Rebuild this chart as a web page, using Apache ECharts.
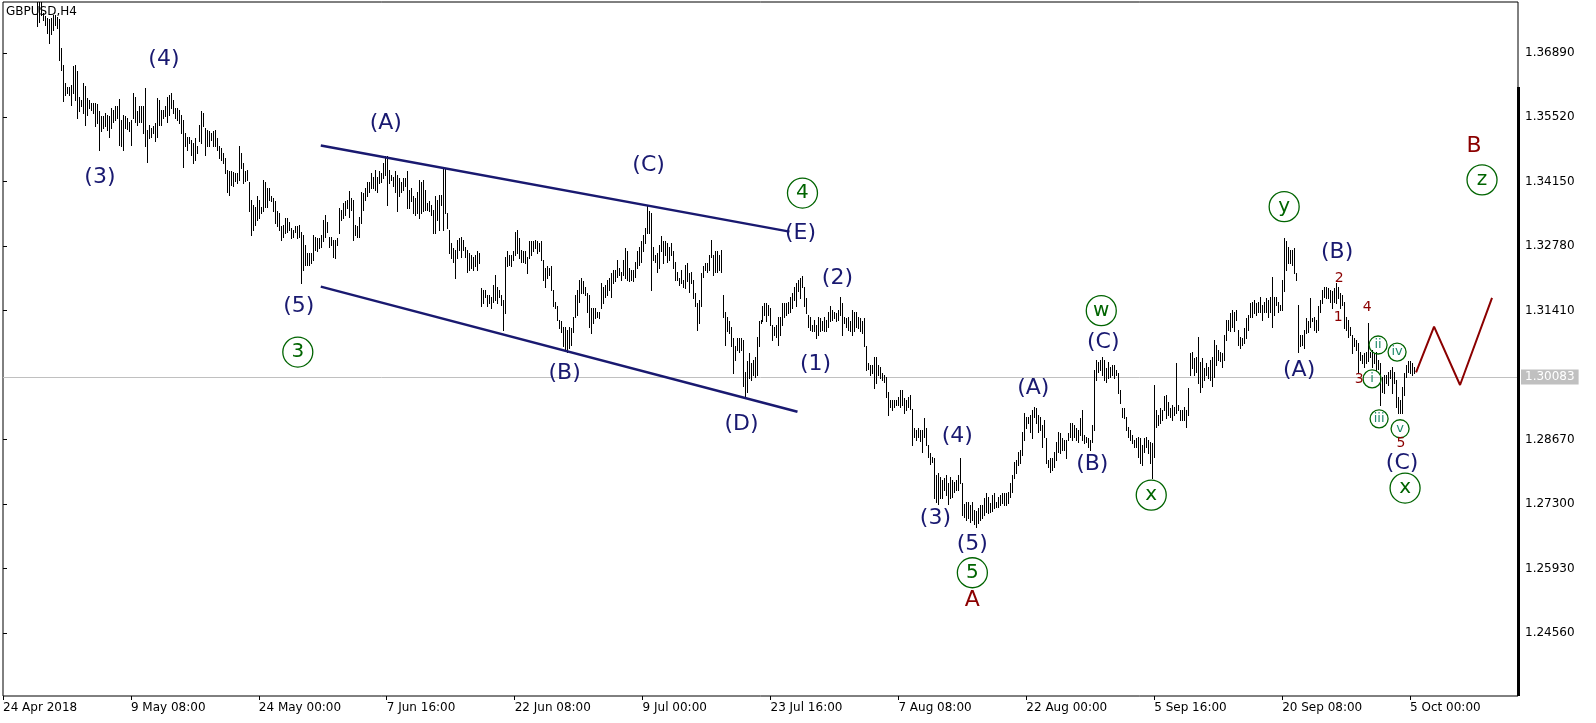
<!DOCTYPE html>
<html>
<head>
<meta charset="utf-8">
<script src="https://cdn.jsdelivr.net/npm/echarts@6/dist/echarts.min.js"></script>
<style>html,body{margin:0;padding:0;background:#fff;}#c{width:1596px;height:723px;}</style>
</head>
<body>
<div id="c"></div>
<script>
// ---- data (GBPUSD H4 bars: high / low) ----
const symbolTitle = 'GBPUSD,H4';
const tickLabels = ['24 Apr 2018','9 May 08:00','24 May 00:00','7 Jun 16:00','22 Jun 08:00','9 Jul 00:00','23 Jul 16:00','7 Aug 08:00','22 Aug 00:00','5 Sep 16:00','20 Sep 08:00','5 Oct 00:00'];
const barsPerLabel = 64;
const totalSlots = 758;
const yTicks = [1.24560,1.25930,1.27300,1.28670,1.31410,1.32780,1.34150,1.35520,1.36890];
const lastPrice = 1.30083;

const highs = [
1.3975,1.3960,1.3985,1.3990,1.3965,1.3950,1.3945,1.3940,1.3945,1.3950,
1.3960,1.3945,1.3930,1.3940,1.3935,1.3925,1.3905,1.3830,1.3815,1.3800,
1.3774,1.3767,1.3763,1.3760,1.3763,1.3770,1.3770,1.3765,1.3761,1.3699,
1.3664,1.3625,1.3616,1.3616,1.3621,1.3660,1.3664,1.3650,1.3596,1.3589,
1.3625,1.3618,1.3593,1.3589,1.3582,1.3582,1.3582,1.3581,1.3565,1.3554,
1.3554,1.3561,1.3557,1.3554,1.3572,1.3567,1.3575,1.3575,1.3591,1.3547,
1.3557,1.3555,1.3550,1.3543,1.3547,1.3603,1.3596,1.3565,1.3575,1.3575,
1.3575,1.3614,1.3526,1.3536,1.3529,1.3534,1.3540,1.3593,1.3589,1.3568,
1.3568,1.3575,1.3596,1.3600,1.3603,1.3589,1.3572,1.3572,1.3568,1.3557,
1.3547,1.3518,1.3511,1.3511,1.3504,1.3497,1.3508,1.3490,1.3536,1.3565,
1.3561,1.3529,1.3526,1.3522,1.3518,1.3522,1.3526,1.3508,1.3490,1.3487,
1.3476,1.3465,1.3440,1.3437,1.3437,1.3435,1.3433,1.3433,1.3490,1.3476,
1.3455,1.3437,1.3440,1.3415,1.3376,1.3366,1.3362,1.3384,1.3376,1.3362,
1.3419,1.3415,1.3401,1.3401,1.3384,1.3380,1.3373,1.3352,1.3348,1.3320,
1.3323,1.3337,1.3337,1.3330,1.3316,1.3313,1.3320,1.3320,1.3323,1.3309,
1.3302,1.3281,1.3263,1.3263,1.3263,1.3302,1.3298,1.3295,1.3295,1.3302,
1.3334,1.3345,1.3330,1.3298,1.3298,1.3291,1.3291,1.3295,1.3359,1.3355,
1.3369,1.3373,1.3376,1.3396,1.3380,1.3376,1.3323,1.3320,1.3341,1.3394,
1.3391,1.3401,1.3415,1.3415,1.3433,1.3426,1.3440,1.3426,1.3437,1.3433,
1.3454,1.3469,1.3469,1.3440,1.3430,1.3426,1.3437,1.3430,1.3423,1.3415,
1.3423,1.3423,1.3437,1.3398,1.3401,1.3384,1.3380,1.3394,1.3419,1.3415,
1.3419,1.3398,1.3369,1.3373,1.3366,1.3355,1.3384,1.3376,1.3387,1.3387,
1.3444,1.3444,1.3348,1.3313,1.3284,1.3274,1.3270,1.3291,1.3295,1.3298,
1.3291,1.3277,1.3270,1.3263,1.3259,1.3256,1.3259,1.3267,1.3263,1.3189,
1.3185,1.3185,1.3174,1.3174,1.3171,1.3196,1.3217,1.3192,1.3185,1.3174,
1.3164,1.3256,1.3267,1.3260,1.3260,1.3267,1.3309,1.3313,1.3295,1.3270,
1.3267,1.3267,1.3256,1.3288,1.3288,1.3288,1.3291,1.3288,1.3284,1.3288,
1.3249,1.3231,1.3235,1.3231,1.3235,1.3185,1.3160,1.3150,1.3121,1.3118,
1.3107,1.3107,1.3100,1.3107,1.3104,1.3128,1.3174,1.3185,1.3206,1.3210,
1.3203,1.3192,1.3178,1.3174,1.3146,1.3146,1.3146,1.3139,1.3139,1.3199,
1.3192,1.3196,1.3206,1.3210,1.3221,1.3228,1.3228,1.3249,1.3231,1.3224,
1.3249,1.3274,1.3267,1.3231,1.3228,1.3228,1.3245,1.3267,1.3277,1.3288,
1.3302,1.3316,1.3366,1.3352,1.3348,1.3277,1.3260,1.3263,1.3281,1.3299,
1.3288,1.3288,1.3284,1.3277,1.3284,1.3267,1.3245,1.3224,1.3210,1.3228,
1.3206,1.3238,1.3242,1.3221,1.3224,1.3206,1.3178,1.3157,1.3164,1.3221,
1.3235,1.3242,1.3242,1.3260,1.3291,1.3260,1.3267,1.3267,1.3260,1.3270,
1.3174,1.3139,1.3128,1.3118,1.3107,1.3082,1.3065,1.3082,1.3082,1.3082,
1.3079,1.3011,1.3033,1.3050,1.3029,1.3036,1.3043,1.3086,1.3118,1.3121,
1.3150,1.3157,1.3157,1.3153,1.3146,1.3111,1.3107,1.3111,1.3128,1.3128,
1.3157,1.3157,1.3157,1.3160,1.3171,1.3178,1.3192,1.3199,1.3206,1.3210,
1.3214,1.3192,1.3167,1.3132,1.3128,1.3111,1.3121,1.3111,1.3128,1.3125,
1.3118,1.3128,1.3121,1.3139,1.3150,1.3143,1.3139,1.3136,1.3143,1.3171,
1.3157,1.3128,1.3125,1.3128,1.3118,1.3143,1.3139,1.3139,1.3128,1.3125,
1.3118,1.3125,1.3065,1.3029,1.3026,1.3026,1.3043,1.3043,1.3026,1.3022,
1.3008,1.3004,1.3001,1.2969,1.2951,1.2951,1.2951,1.2951,1.2958,1.2972,
1.2972,1.2955,1.2951,1.2958,1.2962,1.2933,1.2891,1.2887,1.2891,1.2887,
1.2887,1.2912,1.2891,1.2855,1.2838,1.2831,1.2827,1.2792,1.2795,1.2788,
1.2781,1.2785,1.2792,1.2774,1.2788,1.2781,1.2777,1.2781,1.2792,1.2827,
1.2774,1.2731,1.2735,1.2735,1.2728,1.2735,1.2717,1.2715,1.2722,1.2728,
1.2728,1.2743,1.2754,1.2745,1.2732,1.2749,1.2754,1.2735,1.2745,1.2749,
1.2754,1.2754,1.2754,1.2756,1.2775,1.2792,1.2819,1.2824,1.2841,1.2845,
1.2883,1.2924,1.2915,1.2915,1.2919,1.2930,1.2936,1.2934,1.2919,1.2915,
1.2898,1.2909,1.2870,1.2824,1.2828,1.2828,1.2841,1.2862,1.2883,1.2881,
1.2870,1.2866,1.2866,1.2881,1.2902,1.2902,1.2898,1.2892,1.2888,1.2913,
1.2930,1.2877,1.2873,1.2870,1.2866,1.2898,1.3015,1.3036,1.3032,1.3036,
1.3043,1.3036,1.3019,1.3032,1.3022,1.3026,1.3026,1.3015,1.3009,1.2972,
1.2934,1.2934,1.2915,1.2894,1.2888,1.2877,1.2866,1.2870,1.2873,1.2870,
1.2856,1.2870,1.2873,1.2866,1.2862,1.2860,1.2983,1.2930,1.2919,1.2934,
1.2930,1.2960,1.2962,1.2947,1.2934,1.2941,1.2936,1.3030,1.2941,1.2930,
1.2930,1.2936,1.2930,1.2977,1.3051,1.3053,1.3041,1.3043,1.3085,1.3032,
1.3041,1.3019,1.3029,1.3022,1.3036,1.3043,1.3079,1.3068,1.3058,1.3054,
1.3050,1.3089,1.3121,1.3121,1.3135,1.3143,1.3139,1.3143,1.3100,1.3086,
1.3082,1.3104,1.3125,1.3132,1.3157,1.3160,1.3164,1.3157,1.3160,1.3171,
1.3153,1.3160,1.3167,1.3164,1.3171,1.3213,1.3171,1.3171,1.3160,1.3153,
1.3206,1.3295,1.3288,1.3277,1.3270,1.3270,1.3274,1.3221,1.3153,1.3089,
1.3089,1.3100,1.3125,1.3118,1.3167,1.3125,1.3128,1.3121,1.3150,1.3164,
1.3185,1.3192,1.3192,1.3189,1.3185,1.3182,1.3189,1.3199,1.3192,1.3178,
1.3174,1.3160,1.3128,1.3121,1.3107,1.3089,1.3082,1.3079,1.3072,1.3054,
1.3047,1.3050,1.3054,1.3114,1.3054,1.3058,1.3050,1.3054,1.3036,1.3029,
1.3001,1.3004,1.3004,1.3011,1.3015,1.3022,1.3011,1.2994,1.2958,1.2951,
1.2979,1.3008,1.3026,1.3033,1.3033,1.3029,1.3022
];
const lows = [
1.3940,1.3930,1.3950,1.3955,1.3935,1.3925,1.3920,1.3918,1.3920,1.3925,
1.3930,1.3912,1.3905,1.3915,1.3912,1.3895,1.3820,1.3745,1.3754,1.3770,
1.3758,1.3749,1.3731,1.3710,1.3728,1.3738,1.3749,1.3742,1.3674,1.3653,
1.3586,1.3600,1.3603,1.3600,1.3579,1.3603,1.3589,1.3550,1.3565,1.3575,
1.3561,1.3536,1.3557,1.3572,1.3568,1.3561,1.3533,1.3540,1.3483,1.3522,
1.3529,1.3533,1.3526,1.3511,1.3529,1.3543,1.3547,1.3550,1.3494,1.3490,
1.3483,1.3529,1.3527,1.3522,1.3494,1.3550,1.3543,1.3536,1.3543,1.3543,
1.3518,1.3490,1.3458,1.3508,1.3511,1.3518,1.3501,1.3511,1.3536,1.3536,
1.3550,1.3554,1.3543,1.3557,1.3572,1.3561,1.3550,1.3547,1.3540,1.3518,
1.3447,1.3490,1.3483,1.3497,1.3472,1.3455,1.3462,1.3476,1.3501,1.3497,
1.3533,1.3472,1.3490,1.3490,1.3504,1.3490,1.3490,1.3483,1.3465,1.3462,
1.3455,1.3433,1.3394,1.3387,1.3409,1.3405,1.3416,1.3412,1.3419,1.3444,
1.3412,1.3416,1.3419,1.3352,1.3302,1.3313,1.3323,1.3334,1.3337,1.3348,
1.3352,1.3362,1.3362,1.3376,1.3373,1.3352,1.3327,1.3320,1.3313,1.3291,
1.3298,1.3306,1.3309,1.3313,1.3295,1.3298,1.3309,1.3295,1.3298,1.3199,
1.3228,1.3238,1.3238,1.3238,1.3242,1.3249,1.3270,1.3267,1.3274,1.3277,
1.3288,1.3298,1.3309,1.3277,1.3281,1.3256,1.3252,1.3281,1.3306,1.3334,
1.3337,1.3345,1.3359,1.3341,1.3355,1.3291,1.3302,1.3298,1.3298,1.3327,
1.3355,1.3376,1.3384,1.3394,1.3401,1.3401,1.3398,1.3394,1.3412,1.3415,
1.3423,1.3430,1.3366,1.3412,1.3419,1.3405,1.3394,1.3352,1.3384,1.3394,
1.3398,1.3405,1.3359,1.3359,1.3373,1.3348,1.3345,1.3348,1.3337,1.3348,
1.3352,1.3355,1.3355,1.3352,1.3345,1.3306,1.3306,1.3334,1.3313,1.3366,
1.3313,1.3348,1.3316,1.3263,1.3252,1.3245,1.3210,1.3252,1.3270,1.3256,
1.3270,1.3256,1.3224,1.3228,1.3231,1.3228,1.3235,1.3228,1.3242,1.3150,
1.3157,1.3171,1.3150,1.3157,1.3146,1.3160,1.3164,1.3157,1.3171,1.3153,
1.3100,1.3135,1.3235,1.3238,1.3235,1.3249,1.3260,1.3263,1.3252,1.3245,
1.3245,1.3242,1.3221,1.3252,1.3260,1.3267,1.3274,1.3263,1.3267,1.3249,
1.3206,1.3192,1.3210,1.3217,1.3185,1.3150,1.3146,1.3121,1.3104,1.3096,
1.3065,1.3057,1.3054,1.3061,1.3068,1.3096,1.3128,1.3132,1.3160,1.3178,
1.3178,1.3174,1.3139,1.3107,1.3093,1.3114,1.3125,1.3128,1.3125,1.3146,
1.3157,1.3171,1.3174,1.3185,1.3171,1.3199,1.3203,1.3213,1.3217,1.3206,
1.3217,1.3210,1.3206,1.3203,1.3206,1.3203,1.3213,1.3231,1.3238,1.3245,
1.3267,1.3284,1.3306,1.3306,1.3185,1.3249,1.3245,1.3224,1.3231,1.3267,
1.3242,1.3260,1.3245,1.3249,1.3260,1.3231,1.3206,1.3206,1.3196,1.3199,
1.3192,1.3189,1.3203,1.3181,1.3199,1.3167,1.3150,1.3100,1.3114,1.3150,
1.3213,1.3228,1.3224,1.3228,1.3256,1.3217,1.3224,1.3224,1.3228,1.3224,
1.3128,1.3068,1.3097,1.3093,1.3065,1.3008,1.3036,1.3058,1.3054,1.3058,
1.2980,1.2958,1.2969,1.2997,1.2994,1.3004,1.3001,1.3004,1.3065,1.3114,
1.3118,1.3132,1.3118,1.3132,1.3111,1.3079,1.3089,1.3086,1.3068,1.3089,
1.3111,1.3128,1.3132,1.3135,1.3139,1.3146,1.3164,1.3150,1.3182,1.3167,
1.3192,1.3150,1.3136,1.3107,1.3100,1.3097,1.3097,1.3082,1.3089,1.3097,
1.3100,1.3097,1.3097,1.3107,1.3118,1.3121,1.3125,1.3118,1.3121,1.3132,
1.3089,1.3114,1.3107,1.3100,1.3097,1.3089,1.3097,1.3107,1.3104,1.3097,
1.3093,1.3065,1.3015,1.3018,1.3004,1.3008,1.2976,1.2987,1.3004,1.2997,
1.2994,1.2990,1.2958,1.2919,1.2937,1.2930,1.2937,1.2941,1.2941,1.2937,
1.2941,1.2923,1.2930,1.2937,1.2933,1.2855,1.2873,1.2866,1.2873,1.2863,
1.2841,1.2873,1.2855,1.2831,1.2816,1.2820,1.2742,1.2735,1.2731,1.2742,
1.2742,1.2760,1.2749,1.2731,1.2742,1.2746,1.2756,1.2760,1.2760,1.2774,
1.2706,1.2703,1.2696,1.2701,1.2692,1.2696,1.2688,1.2681,1.2690,1.2696,
1.2701,1.2707,1.2713,1.2711,1.2713,1.2715,1.2722,1.2724,1.2724,1.2728,
1.2732,1.2728,1.2728,1.2732,1.2745,1.2756,1.2786,1.2796,1.2813,1.2817,
1.2834,1.2866,1.2892,1.2902,1.2883,1.2870,1.2915,1.2902,1.2883,1.2888,
1.2851,1.2873,1.2817,1.2809,1.2798,1.2803,1.2809,1.2824,1.2841,1.2839,
1.2845,1.2845,1.2828,1.2866,1.2873,1.2866,1.2873,1.2866,1.2862,1.2877,
1.2866,1.2860,1.2862,1.2851,1.2845,1.2862,1.2888,1.2994,1.3011,1.3015,
1.3004,1.2994,1.2990,1.2998,1.3000,1.3004,1.2998,1.3004,1.2966,1.2945,
1.2915,1.2913,1.2888,1.2873,1.2866,1.2860,1.2851,1.2851,1.2830,1.2817,
1.2813,1.2841,1.2851,1.2839,1.2817,1.2786,1.2830,1.2894,1.2898,1.2902,
1.2909,1.2930,1.2913,1.2919,1.2915,1.2909,1.2919,1.2924,1.2930,1.2909,
1.2909,1.2909,1.2894,1.2919,1.3004,1.3019,1.3004,1.3011,1.2987,1.2968,
1.2979,1.2994,1.3004,1.2997,1.2994,1.2980,1.3001,1.3026,1.3036,1.3033,
1.3022,1.3036,1.3079,1.3100,1.3097,1.3107,1.3097,1.3121,1.3068,1.3061,
1.3068,1.3072,1.3082,1.3100,1.3128,1.3128,1.3135,1.3132,1.3139,1.3139,
1.3121,1.3139,1.3139,1.3128,1.3139,1.3107,1.3132,1.3153,1.3139,1.3143,
1.3143,1.3182,1.3228,1.3242,1.3242,1.3238,1.3221,1.3206,1.3054,1.3065,
1.3068,1.3061,1.3093,1.3096,1.3107,1.3118,1.3100,1.3096,1.3100,1.3139,
1.3157,1.3171,1.3167,1.3167,1.3160,1.3146,1.3160,1.3157,1.3167,1.3146,
1.3153,1.3104,1.3100,1.3086,1.3089,1.3050,1.3065,1.3058,1.3011,1.3036,
1.3029,1.3022,1.3029,1.3033,1.3043,1.3022,1.3029,1.3015,1.3018,1.2941,
1.2969,1.2965,1.2987,1.2983,1.2997,1.2965,1.2987,1.2937,1.2923,1.2923,
1.2923,1.2962,1.3001,1.3011,1.3008,1.3004,1.3008
];

// wave annotations: [text, bar index, price]
const navyLabels = [
['(4)',80.5,1.3676],['(3)',48.5,1.3425],['(A)',191.5,1.3540],['(5)',148,1.3151],['(C)',323,1.3451],
['(E)',399,1.3306],['(B)',281,1.3007],['(D)',369.5,1.2900],['(2)',417.5,1.3209],['(1)',406.5,1.3028],
['(4)',477.5,1.2873],['(3)',466.5,1.2700],['(5)',485,1.2645],['(A)',515.5,1.2977],['(B)',545,1.2815],
['(C)',550.5,1.3073],['(A)',648.5,1.3015],['(B)',667.5,1.3266],['(C)',700,1.2817]
];
const greenCircled = [['3',147.5,1.3053],['4',400,1.3391],['5',485,1.2584],['w',549.5,1.3141],['x',574.5,1.2749],['y',641,1.3362],['z',740,1.3419],['x',701.5,1.2764]];
const redBig = [['A',485,1.2526],['B',736,1.3491]];
const redSmall = [['2',668.5,1.3209],['1',668,1.3126],['4',682.5,1.3147],['3',678.5,1.2994],['5',699.5,1.2860]];
const romanCircled = [['i',685,1.2996],['ii',688,1.3068],['iii',688.5,1.2911],['iv',697.5,1.3053],['v',699,1.2890]];

// channel lines [index, price]
const upperLine = [[159,1.3492],[393.5,1.3309]];
const lowerLine = [[159,1.3192],[397.5,1.2926]];
// forecast zigzag
const projX = [707,716,729,745];
const projY = [1.3010,1.3107,1.2983,1.3168];

const Y_MIN = 1.2322, Y_MAX = 1.3797;
const FONT = 'DejaVu Sans';
const NAVY = '#191970', GREEN = '#006400', DRED = '#8b0000';

const tickIdx = tickLabels.map((_, k) => k * barsPerLabel);
const barData = highs.map((h, i) => [i, h, lows[i]]);

function labelSeries(arr, color, size, circle, circleSize, textColor) {
  return {
    type: 'scatter', silent: true, z: 10,
    symbol: 'circle',
    symbolSize: circle ? circleSize : 1,
    itemStyle: circle ? {color: 'rgba(0,0,0,0)', borderColor: color, borderWidth: 1.3, opacity: 1}
                      : {color: 'rgba(0,0,0,0)', opacity: 1},
    data: arr.map(a => [a[1], a[2], a[0]]),
    label: {show: true, position: 'inside', formatter: p => p.data[2], color: textColor || color,
            fontSize: size, fontFamily: FONT, opacity: 1},
    emphasis: {disabled: true}
  };
}

const chart = echarts.init(document.getElementById('c'), null, {renderer: 'canvas'});
chart.setOption({
  animation: false,
  backgroundColor: '#ffffff',
  title: {text: symbolTitle, left: 6, top: 6, padding: 0,
          textStyle: {fontSize: 12, fontWeight: 'normal', color: '#000', fontFamily: FONT}},
  grid: {left: 2, top: 2, width: 1516, height: 694, show: true, borderColor: '#000', borderWidth: 1, backgroundColor: 'transparent'},
  xAxis: {
    type: 'value', min: 0, max: totalSlots,
    splitLine: {show: false}, axisLine: {show: false},
    axisTick: {show: true, customValues: tickIdx, length: 4, lineStyle: {color: '#000'}},
    axisLabel: {customValues: tickIdx, formatter: v => tickLabels[Math.round(v / barsPerLabel)] || '',
                align: 'left', margin: 6, color: '#000', fontSize: 12, fontFamily: FONT}
  },
  yAxis: {
    type: 'value', position: 'right', min: Y_MIN, max: Y_MAX,
    splitLine: {show: false}, axisLine: {show: false},
    axisTick: {show: true, customValues: yTicks, length: 4, lineStyle: {color: '#000'}},
    axisLabel: {customValues: yTicks, formatter: v => v.toFixed(5), margin: 7, color: '#000', fontSize: 12, fontFamily: FONT}
  },
  graphic: [{type: 'rect', shape: {x: 1517, y: 87, width: 3, height: 609}, style: {fill: '#000'}, z: 100}],
  series: [
    {
      type: 'line', silent: true, z: 1, symbol: 'none',
      data: projX.map((x, i) => [x, projY[i]]),
      lineStyle: {color: DRED, width: 2},
      markLine: {
        silent: true, symbol: 'none', z: 0,
        data: [{yAxis: lastPrice}],
        lineStyle: {color: '#c0c0c0', width: 1, type: 'solid'},
        label: {show: true, position: 'end', distance: 3, formatter: lastPrice.toFixed(5),
                backgroundColor: '#c0c0c0', color: '#fff', padding: [2, 4, 1, 4], fontSize: 12, fontFamily: FONT}
      }
    },
    {
      type: 'custom', clip: true, silent: true, z: 3,
      data: barData,
      encode: {x: 0, y: [1, 2]},
      renderItem: (params, api) => {
        const i = api.value(0);
        const h = api.coord([i, api.value(1)]);
        const l = api.coord([i, api.value(2)]);
        const x = Math.round(h[0]) + 0.5;
        return {type: 'line', shape: {x1: x, y1: Math.round(h[1]), x2: x, y2: Math.round(l[1]) + 1},
                style: {stroke: '#000', lineWidth: 1}};
      }
    },
    {type: 'line', silent: true, z: 4, symbol: 'none', data: upperLine, lineStyle: {color: '#191970', width: 2.5}},
    {type: 'line', silent: true, z: 4, symbol: 'none', data: lowerLine, lineStyle: {color: '#191970', width: 2.5}},
    labelSeries(navyLabels, NAVY, 22, false),
    labelSeries(greenCircled, GREEN, 20, true, 30),
    labelSeries(redBig, DRED, 22, false),
    labelSeries(redSmall, DRED, 14, false),
    labelSeries(romanCircled, GREEN, 13, true, 18, '#1f8a6a')
  ]
});
</script>
</body>
</html>
